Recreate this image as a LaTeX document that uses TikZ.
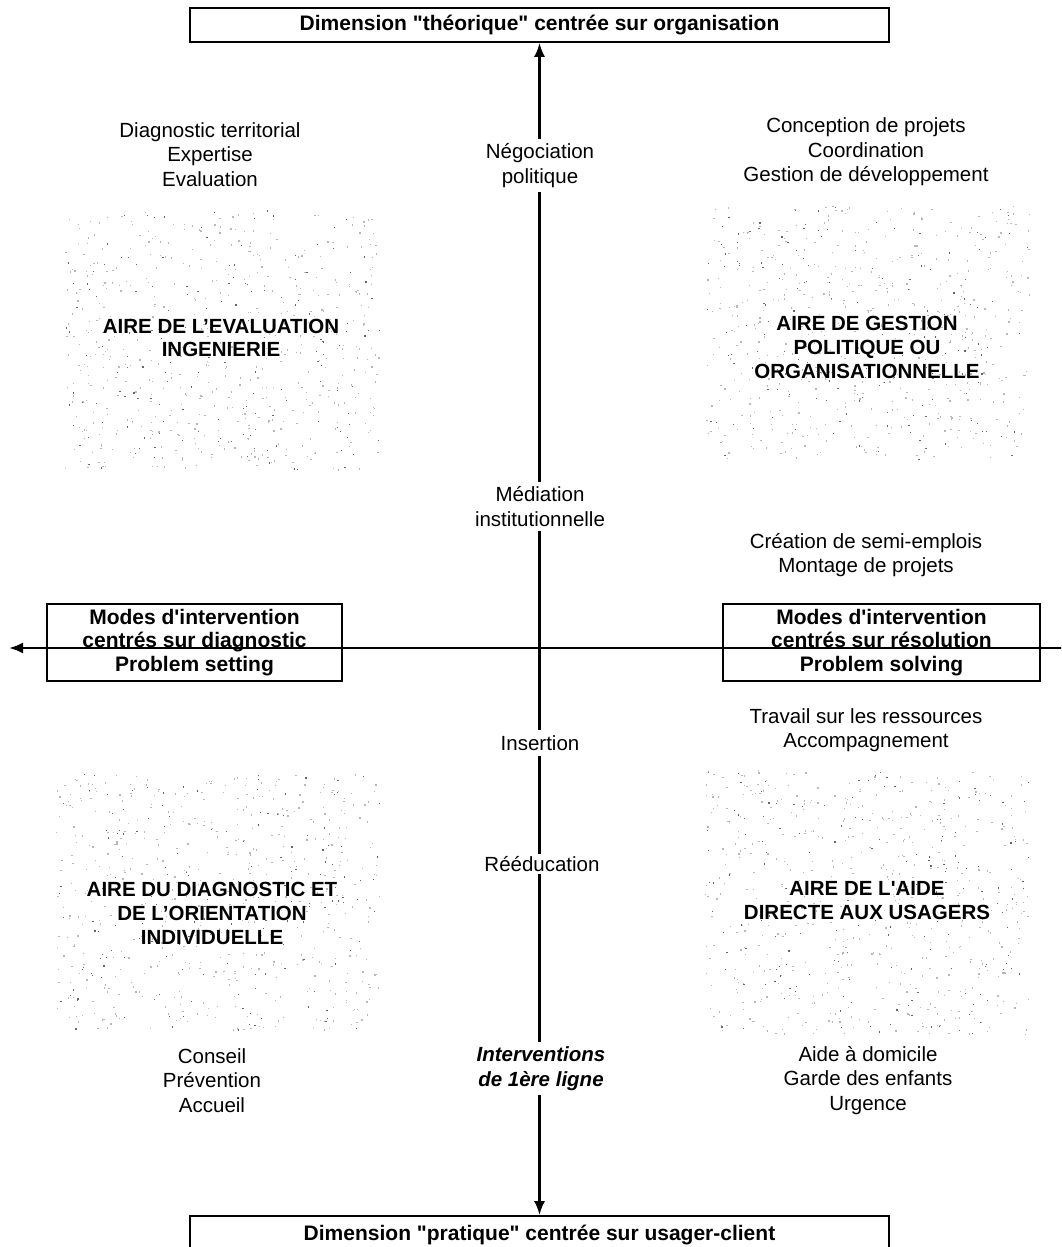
\documentclass[tikz,border=0pt]{standalone}
\usepackage{fontspec}
\setmainfont{Liberation Sans}[Ligatures=TeXOff]
\usetikzlibrary{arrows.meta}
\newcommand\mystipple[4]{%
  \foreach \k in {1,...,520}{\fill[black!28] ({#1+#3*rand},{#2+#4*rand}) rectangle ++(1.3,1.3);}
  \foreach \k in {1,...,160}{\fill[black!60] ({#1+#3*rand},{#2+#4*rand}) rectangle ++(1.2,1.2);}
}
\begin{document}
\begin{tikzpicture}[x=1pt,y=-1pt,
  plain/.style={font=\fontsize{20.5}{24.5}\selectfont, align=center, inner sep=1pt},
  area/.style={font=\bfseries\fontsize{20.5}{23.8}\selectfont, align=center, inner sep=1pt},
  boxed/.style={draw, line width=1.7pt, font=\bfseries\fontsize{21}{23.5}\selectfont, align=center, inner sep=0pt},
  axislabel/.style={font=\fontsize{20.5}{24.5}\selectfont, align=center, fill=white, inner sep=5pt},
  axis/.style={line width=2.4pt}
]
\clip (0,0) rectangle (1061,1247);
\fill[white] (0,0) rectangle (1061,1247);
\pgfmathsetseed{4242}
% stippled areas
\mystipple{222}{340}{157}{130}
\mystipple{867}{332}{162}{127}
\mystipple{217}{902}{162}{128}
\mystipple{867}{902}{162}{132}

% boxes
\node[boxed, minimum width=699pt, minimum height=34pt] (top) at (539.5,25) {Dimension "théorique" centrée sur organisation};
\node[boxed, minimum width=699pt, minimum height=38pt] (bot) at (539.5,1235) {Dimension "pratique" centrée sur usager-client};
\node[boxed, minimum width=295pt, minimum height=77pt] (left) at (194.5,642.5) {Modes d'intervention\\centrés sur diagnostic\\Problem setting};
\node[boxed, minimum width=317pt, minimum height=77pt] (right) at (881.5,642.5) {Modes d'intervention\\centrés sur résolution\\Problem solving};

% axes
\coordinate (hr) at (1064,648);
\coordinate (hl) at (9,648);
\draw[axis, -{Latex[length=14pt,width=11pt]}] (hr) -- (hl);
\draw[axis, {Latex[length=14pt,width=11pt]}-{Latex[length=14pt,width=11pt]}] (top.south) -- (bot.north);

% axis labels
\node[axislabel] (nego) at (540,165.5) {Négociation\\politique};
\node[axislabel] (medi) at (540,506.5) {Médiation\\institutionnelle};
\node[axislabel] (inse) at (540,743) {Insertion};
\node[axislabel, inner sep=2pt] (reed) at (542,864) {Rééducation};
\node[axislabel, font=\bfseries\itshape\fontsize{20.5}{24.5}\selectfont] (inte) at (541,1068.5) {Interventions\\de 1ère ligne};

% side texts
\node[plain] (diag) at (210,154.5) {Diagnostic territorial\\Expertise\\Evaluation};
\node[plain] (conc) at (866,152) {Conception de projets\\Coordination\\Gestion de développement};
\node[plain] (crea) at (866,555) {Création de semi-emplois\\Montage de projets};
\node[plain] (trav) at (866,730) {Travail sur les ressources\\Accompagnement};
\node[plain] (cons) at (212,1080.5) {Conseil\\Prévention\\Accueil};
\node[plain] (aide) at (868,1080.5) {Aide à domicile\\Garde des enfants\\Urgence};

% area titles
\node[area] (aeval) at (221,338) {AIRE DE L’EVALUATION\\INGENIERIE};
\node[area] (agest) at (867,347.5) {AIRE DE GESTION\\POLITIQUE OU\\ORGANISATIONNELLE};
\node[area] (adiag) at (212,913.5) {AIRE DU DIAGNOSTIC ET\\DE L’ORIENTATION\\INDIVIDUELLE};
\node[area] (aaide) at (867,900.5) {AIRE DE L'AIDE\\DIRECTE AUX USAGERS};
\end{tikzpicture}
\end{document}
